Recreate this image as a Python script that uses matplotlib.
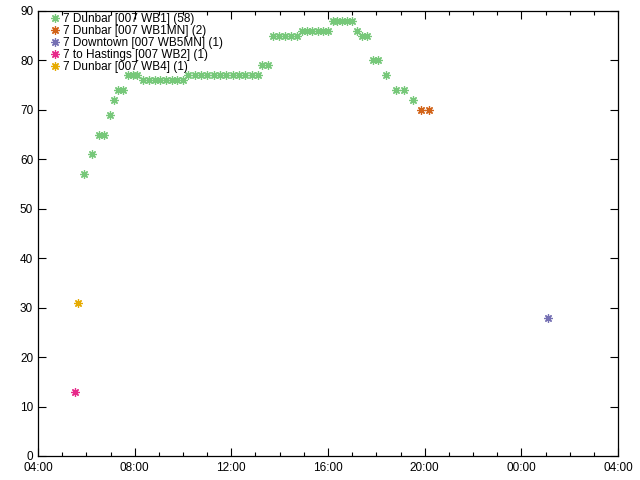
import matplotlib
matplotlib.use("Agg")
import matplotlib.pyplot as plt
from matplotlib.ticker import MultipleLocator, FuncFormatter

# Observations per route variant: time of day and value
wb1_times = ["05:54", "06:14", "06:31", "06:44", "06:59", "07:08", "07:19", "07:31",
             "07:43", "07:56", "08:06",
             "08:20", "08:35", "08:50", "09:03", "09:18", "09:33", "09:45", "10:00",
             "10:13", "10:29", "10:44", "11:00", "11:16", "11:32", "11:48", "12:03",
             "12:19", "12:35", "12:51", "13:06",
             "13:16", "13:31",
             "13:43", "13:58", "14:13", "14:28", "14:43",
             "14:55", "15:08", "15:21", "15:34", "15:47", "16:00",
             "16:12", "16:22", "16:35", "16:47", "16:59",
             "17:12", "17:25", "17:37", "17:52", "18:04", "18:24", "18:49", "19:08",
             "19:31"]
wb1_vals = [57, 61, 65, 65, 69, 72, 74, 74,
            77, 77, 77,
            76, 76, 76, 76, 76, 76, 76, 76,
            77, 77, 77, 77, 77, 77, 77, 77,
            77, 77, 77, 77,
            79, 79,
            85, 85, 85, 85, 85,
            86, 86, 86, 86, 86, 86,
            88, 88, 88, 88, 88,
            86, 85, 85, 80, 80, 77, 74, 74,
            72]
wb1mn_times = ["19:51", "20:11"]
wb1mn_vals = [70, 70]
wb5mn_times = ["01:06"]
wb5mn_vals = [28]
wb2_times = ["05:32"]
wb2_vals = [13]
wb4_times = ["05:39"]
wb4_vals = [31]

series = [
    ("7 Dunbar [007 WB1] (58)", wb1_times, wb1_vals, "#77c87a"),
    ("7 Dunbar [007 WB1MN] (2)", wb1mn_times, wb1mn_vals, "#d2641a"),
    ("7 Downtown [007 WB5MN] (1)", wb5mn_times, wb5mn_vals, "#7570b3"),
    ("7 to Hastings [007 WB2] (1)", wb2_times, wb2_vals, "#e7298a"),
    ("7 Dunbar [007 WB4] (1)", wb4_times, wb4_vals, "#e6ab02"),
]


def to_hours(t):
    h, m = t.split(":")
    v = int(h) + int(m) / 60
    if v < 4:  # after midnight, belongs to the service day
        v += 24
    return v


plt.rcParams["font.family"] = ["Liberation Sans", "DejaVu Sans"]
fig = plt.figure(figsize=(6.4, 4.8), dpi=100)
ax = fig.add_axes([38 / 640, 24 / 480, 580 / 640, 445 / 480])

for label, times, vals, color in series:
    xs = [to_hours(t) for t in times]
    ax.plot(xs, vals, linestyle="none", marker=(8, 2, 0), markersize=6,
            markeredgewidth=0.9, color=color, markeredgecolor=color, label=label)

ax.set_xlim(4, 28)
ax.set_ylim(0, 90)
ax.xaxis.set_major_locator(MultipleLocator(4))
ax.xaxis.set_minor_locator(MultipleLocator(1))
ax.yaxis.set_major_locator(MultipleLocator(10))
ax.xaxis.set_major_formatter(FuncFormatter(lambda v, p: "%02d:00" % (int(round(v)) % 24)))

ax.tick_params(which="both", direction="in", top=True, right=True, labelsize=8.5,
               width=0.8, colors="black")
ax.tick_params(which="major", length=6)
ax.tick_params(which="minor", length=3)
ax.tick_params(axis="x", pad=4.5)
for s in ax.spines.values():
    s.set_linewidth(0.9)

ax.legend(loc="upper left", bbox_to_anchor=(12 / 580, 1 - 2 / 445), frameon=False,
          fontsize=8.5, handlelength=0.8, handletextpad=0.3, labelspacing=0.0,
          borderaxespad=0, borderpad=0)

fig.savefig("out.png", dpi=100)
